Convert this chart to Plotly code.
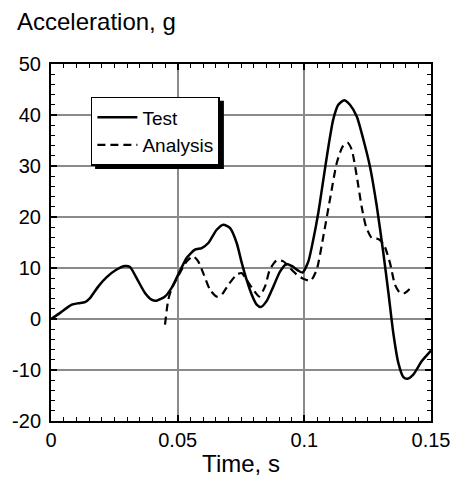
import plotly.graph_objects as go

# Test curve (time in s, acceleration in g)
test_t = [0, 0.0036, 0.0082, 0.0108, 0.0134, 0.0154, 0.0187, 0.022, 0.0259, 0.0292,
          0.0312, 0.0338, 0.0371, 0.0397, 0.0417, 0.045, 0.0476, 0.0503, 0.0536, 0.0568,
          0.0595, 0.0621, 0.0654, 0.068, 0.0707, 0.0733, 0.0753, 0.0772, 0.0792, 0.0812,
          0.0828, 0.0851, 0.0878, 0.0904, 0.093, 0.095, 0.0976, 0.0993, 0.1016, 0.1035,
          0.1055, 0.1075, 0.1095, 0.1114, 0.1134, 0.1157, 0.118, 0.1207, 0.1233, 0.1259,
          0.1286, 0.1312, 0.1332, 0.1351, 0.1371, 0.1391, 0.1407, 0.143, 0.1463, 0.15]
test_g = [0, 1.2, 2.8, 3.1, 3.3, 4.1, 6.4, 8.2, 9.7, 10.4,
          10.2, 8.0, 5.1, 3.8, 3.6, 4.4, 6.1, 8.8, 12.0, 13.6,
          13.9, 14.9, 17.5, 18.5, 17.8, 14.9, 11.0, 7.7, 4.8, 2.8,
          2.35, 3.5, 6.4, 9.3, 10.8, 10.4, 9.5, 9.1, 11.3, 15.5,
          20.8, 27.3, 33.8, 39.1, 42.0, 42.9, 42.0, 39.7, 35.2, 29.9,
          22.1, 12.9, 5.1, -2.7, -8.6, -11.4, -11.7, -10.9, -8.3, -6.2]

# Analysis curve
analysis_t = [0.045, 0.0463, 0.0476, 0.0503, 0.0536, 0.0562, 0.0581, 0.0601, 0.0628, 0.0654,
              0.0674, 0.07, 0.0733, 0.0753, 0.0772, 0.0799, 0.0822, 0.0845, 0.0864, 0.0891,
              0.0917, 0.0943, 0.097, 0.0996, 0.1025, 0.1049, 0.1075, 0.1101, 0.1128, 0.1151,
              0.117, 0.1187, 0.1207, 0.1226, 0.1243, 0.1266, 0.1292, 0.1314, 0.1338, 0.1358,
              0.1378, 0.1397, 0.1428]
analysis_g = [-1.1, 3.8, 5.9, 8.5, 11.3, 12.3, 11.3, 9.0, 5.7, 4.4,
              4.8, 6.7, 8.7, 9.0, 7.7, 5.7, 4.4, 6.4, 9.7, 11.5,
              11.3, 10.0, 8.7, 7.9, 7.5, 9.7, 16.2, 23.4, 30.6, 33.8,
              34.6, 33.2, 28.0, 22.1, 18.2, 15.9, 15.7, 14.6, 11.0, 6.7,
              5.1, 5.1, 6.5]

x_ticks = [0, 0.05, 0.1, 0.15]
x_labels = ["0", "0.05", "0.1", "0.15"]
y_ticks = [-20, -10, 0, 10, 20, 30, 40, 50]
y_labels = ["-20", "-10", "0", "10", "20", "30", "40", "50"]

FONT = "Liberation Sans, Arial, sans-serif"

fig = go.Figure()
fig.add_trace(go.Scatter(x=test_t, y=test_g, mode="lines", name="Test",
                         line=dict(color="black", width=2.5, shape="spline", smoothing=0.6)))
fig.add_trace(go.Scatter(x=analysis_t, y=analysis_g, mode="lines", name="Analysis",
                         line=dict(color="black", width=2.2, dash="8px,5px", shape="spline", smoothing=0.6)))

axis_common = dict(
    showline=True, linecolor="black", linewidth=2, mirror="ticks",
    ticks="inside", ticklen=6, tickwidth=1.5, tickcolor="black",
    showgrid=True, gridcolor="#8a8a8a", gridwidth=1.5,
    zeroline=False, automargin=False,
    tickfont=dict(family=FONT, size=20, color="black"),
)

fig.update_xaxes(range=[0, 0.15], tickvals=x_ticks, ticktext=x_labels,
                 minor=dict(dtick=0.005, ticks="inside", ticklen=4, tickcolor="black", tickwidth=1.2, showgrid=False),
                 title=dict(text="Time, s", font=dict(family=FONT, size=24, color="black"), standoff=6),
                 **axis_common)
fig.update_yaxes(range=[-20, 50], tickvals=y_ticks, ticktext=y_labels,
                 minor=dict(dtick=2, ticks="inside", ticklen=4, tickcolor="black", tickwidth=1.2, showgrid=False),
                 ticklabelstandoff=4,
                 **axis_common)

# legend shadow (offset box behind the legend)
fig.add_shape(type="rect", xref="paper", yref="paper",
              x0=0.116, x1=0.455, y0=0.706, y1=0.897,
              fillcolor="black", line=dict(width=0), layer="above")

fig.add_annotation(text="Acceleration, g", xref="paper", yref="paper",
                   x=-0.0947, y=1.118, xanchor="left", yanchor="middle", showarrow=False,
                   font=dict(family=FONT, size=24, color="black"))

fig.update_layout(
    width=457, height=477,
    margin=dict(l=51, r=26, t=64, b=56),
    paper_bgcolor="white", plot_bgcolor="white",
    showlegend=True,
    legend=dict(x=0.105, y=0.908, xanchor="left", yanchor="top",
                bgcolor="white", bordercolor="black", borderwidth=1.5,
                font=dict(family=FONT, size=19, color="black"),
                tracegroupgap=0, itemwidth=40),
)

fig.write_html("out.html", config={"displayModeBar": False},
               post_script="document.body.style.margin='0';document.body.style.overflow='hidden';")
